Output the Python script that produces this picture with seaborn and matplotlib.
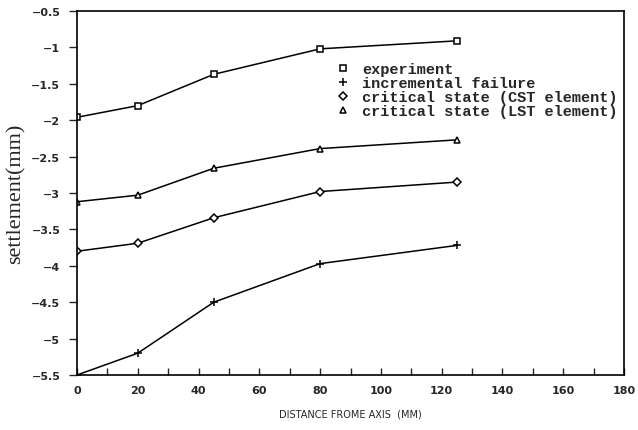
import matplotlib
matplotlib.use("Agg")
import matplotlib.pyplot as plt
from matplotlib.ticker import MultipleLocator
from matplotlib.lines import Line2D
import seaborn as sns
import pandas as pd

distance = [0, 20, 45, 80, 125]
experiment = [-1.96, -1.80, -1.37, -1.02, -0.91]
incremental_failure = [-5.50, -5.20, -4.50, -3.97, -3.72]
critical_cst = [-3.80, -3.69, -3.34, -2.98, -2.85]
critical_lst = [-3.12, -3.03, -2.66, -2.39, -2.27]

series_names = [
    "experiment",
    "incremental failure",
    "critical state (CST element)",
    "critical state (LST element)",
]
series_values = [experiment, incremental_failure, critical_cst, critical_lst]
series_markers = ["s", "+", "D", "^"]
marker_sizes = [4.5, 6, 4, 4.5]

x_ticks = [0, 20, 40, 60, 80, 100, 120, 140, 160, 180]
y_ticks = [-0.5, -1, -1.5, -2, -2.5, -3, -3.5, -4, -4.5, -5, -5.5]

df = pd.DataFrame(
    [(x, y, name) for name, vals in zip(series_names, series_values)
     for x, y in zip(distance, vals)],
    columns=["distance", "settlement", "series"],
)

sns.set_style("white")
plt.rcParams["font.family"] = ["DejaVu Sans"]

fig = plt.figure(figsize=(6.38, 4.31), dpi=100)
ax = fig.add_axes([0.1207, 0.1276, 0.8574, 0.8446])

# draw all curves through seaborn, then give each its own marker glyph
sns.lineplot(
    data=df, x="distance", y="settlement", hue="series",
    hue_order=series_names, palette=["black"] * 4,
    marker="o", linewidth=1.1, legend=False, ax=ax,
)
for line, m, ms in zip(ax.lines, series_markers, marker_sizes):
    line.set_marker(m)
    line.set_markersize(ms)
    line.set_markerfacecolor("white")
    line.set_markeredgecolor("black")
    line.set_markeredgewidth(1.1)

ax.set_xlim(0, 180)
ax.set_ylim(-5.5, -0.5)
ax.set_xticks(x_ticks)
ax.xaxis.set_minor_locator(MultipleLocator(10))
ax.set_yticks(y_ticks)
ax.set_yticklabels([f"{v:g}".replace("-", "\u2212") for v in y_ticks])
ax.tick_params(axis="x", which="both", direction="in", length=5, width=1.0,
               bottom=True, labelsize=8, pad=7)
ax.tick_params(axis="y", direction="out", length=6, width=1.0, left=True,
               labelsize=8, pad=6)
for lab in ax.get_xticklabels() + ax.get_yticklabels():
    lab.set_fontweight("bold")

for side in ["left", "right", "top", "bottom"]:
    ax.spines[side].set_color("black")
    ax.spines[side].set_linewidth(1.2)

ax.set_xlabel("DISTANCE FROME AXIS  (MM)", fontsize=7, labelpad=10,
              fontfamily="DejaVu Sans Condensed")
ax.set_ylabel("settlement(mm)", fontsize=16, fontfamily="Liberation Serif",
              labelpad=4)

handles = [
    Line2D([], [], linestyle="none", marker=m, markersize=ms,
           markerfacecolor="white", markeredgecolor="black", markeredgewidth=1.1)
    for m, ms in zip(series_markers, marker_sizes)
]
ax.legend(handles, series_names, loc="upper left",
          bbox_to_anchor=(0.462, 0.88), frameon=False, handlelength=0.8,
          handletextpad=0.8, labelspacing=0.0, borderpad=0,
          prop={"family": "Liberation Mono", "weight": "bold", "size": 11})

fig.savefig("out.png", dpi=100)
